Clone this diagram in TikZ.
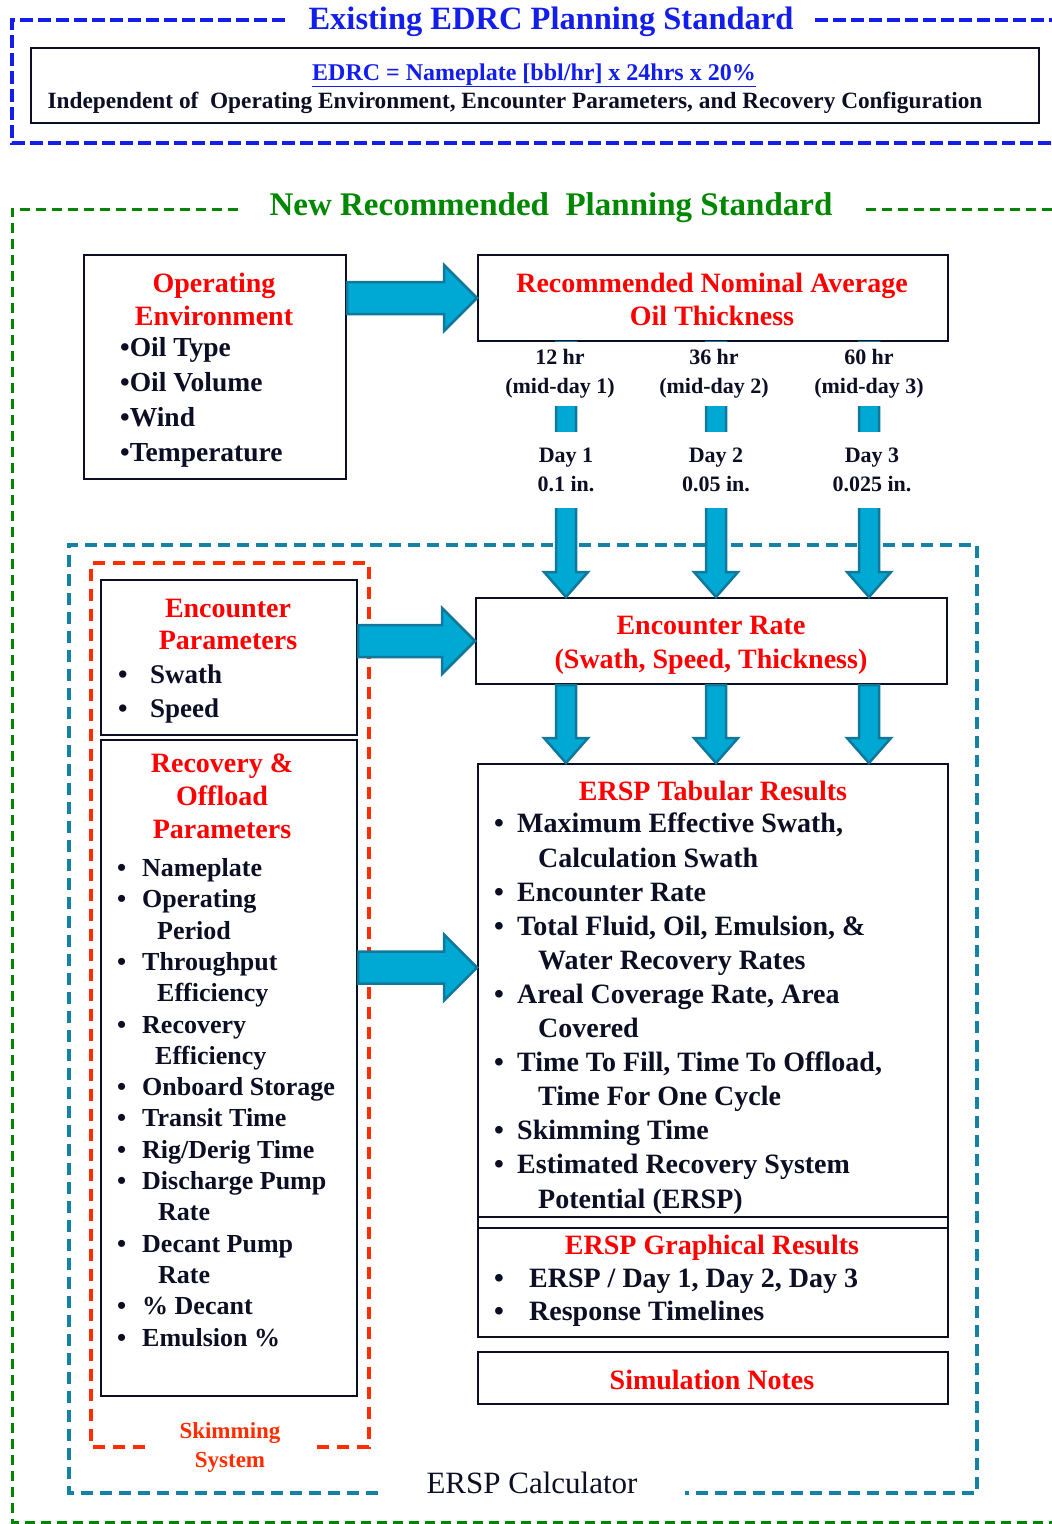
\documentclass[tikz,border=0pt]{standalone}
\usepackage{fontspec}
\setmainfont{Liberation Serif}
\usepackage{xcolor}
\usetikzlibrary{calc,positioning}

\definecolor{edrcblue}{RGB}{20,30,235}
\definecolor{newgreen}{RGB}{0,135,0}
\definecolor{hdred}{RGB}{255,0,0}
\definecolor{calcteal}{RGB}{20,130,165}
\definecolor{skimred}{RGB}{255,45,0}
\definecolor{arrowfill}{RGB}{0,168,212}
\definecolor{arrowedge}{RGB}{18,120,155}
\definecolor{boxline}{RGB}{12,14,35}

\newcommand{\bfs}[2]{\fontsize{#1}{#2}\selectfont\bfseries}
\newcommand{\bul}[1]{\makebox[#1][l]{\textbullet}}

\tikzstyle{panel} = [rectangle, draw=boxline, line width=2pt, anchor=north west, inner sep=0pt]
\tikzstyle{head} = [text=hdred, align=center, anchor=base, inner sep=0pt, font=\bfs{28}{33}]
\tikzstyle{items} = [text=boxline, align=left, anchor=base west, inner sep=0pt]
\tikzstyle{tag} = [fill=white, text=boxline, align=center, anchor=north, inner sep=0pt, minimum width=118pt, font=\bfs{22}{29}]
\tikzstyle{bluedash} = [draw=edrcblue, line width=4pt, dash pattern=on 13pt off 5pt]
\tikzstyle{greendash} = [draw=newgreen, line width=3pt, dash pattern=on 10pt off 6pt]
\tikzstyle{tealdash} = [draw=calcteal, line width=3.5pt, dash pattern=on 12pt off 7pt]
\tikzstyle{skimdash} = [draw=skimred, line width=3.5pt, dash pattern=on 12pt off 8pt]
\tikzstyle{fatright} = [draw=arrowedge, line width=2.5pt, fill=arrowfill, line join=miter,
  to path={let \p1=(\tikztostart), \p2=(\tikztotarget) in
    (\x1,\y2+16pt) -- (\x2-33pt,\y2+16pt) -- (\x2-33pt,\y2+33pt) -- (\x2,\y2)
    -- (\x2-33pt,\y2-33pt) -- (\x2-33pt,\y2-16pt) -- (\x1,\y2-16pt) -- cycle}]
\tikzstyle{fatdown} = [draw=arrowedge, line width=2.5pt, fill=arrowfill, line join=miter,
  to path={let \p1=(\tikztostart), \p2=(\tikztotarget) in
    (\x1-10pt,\y1) -- (\x1-10pt,\y2+25pt) -- (\x1-22pt,\y2+25pt) -- (\x1,\y2)
    -- (\x1+22pt,\y2+25pt) -- (\x1+10pt,\y2+25pt) -- (\x1+10pt,\y1) -- cycle}]

\begin{document}
\begin{tikzpicture}[x=1pt, y=-1pt]
\useasboundingbox (0,0) rectangle (1052,1524);

% existing standard
\node[anchor=base, text=edrcblue, font=\bfs{32.5}{36}] (oldtitle) at (551,29) {Existing EDRC Planning Standard};
\draw[bluedash] (285,20) -- (12,20) -- (12,143) -- (1052,143);
\draw[bluedash] (815,20) -- (1052,20);
\node[panel, minimum width=1008pt, minimum height=75pt] (edrcbox) at (30,47) {};
\node[anchor=base, text=edrcblue, font=\bfs{24}{28}] (formula) at (534,80) {\underline{EDRC = Nameplate [bbl/hr] x 24hrs x 20\%}};
\node[anchor=base, text=boxline, font=\bfs{23.3}{28}] (indep) at (515,108) {Independent of~ Operating Environment, Encounter Parameters, and Recovery Configuration};

% new standard
\node[anchor=base, text=newgreen, font=\bfs{33}{36}] (newtitle) at (551,215) {New Recommended~ Planning Standard};
\draw[greendash] (238,209) -- (12,209) -- (12,1522) -- (1052,1522);
\draw[greendash] (866,209) -- (1052,209);

% boxes
\node[panel, minimum width=262pt, minimum height=224pt] (openv) at (83,254) {};
\node[panel, minimum width=470pt, minimum height=86pt] (nominal) at (477,254) {};
\node[panel, minimum width=256pt, minimum height=155pt] (encpar) at (100,579) {};
\node[panel, minimum width=256pt, minimum height=656pt] (recov) at (100,739) {};
\node[panel, minimum width=471pt, minimum height=86pt] (encrate) at (475,597) {};
\node[panel, minimum width=470pt, minimum height=453pt] (tabular) at (477,763) {};
\node[panel, minimum width=470pt, minimum height=120pt] (graph) at (477,1216) {};
\draw[boxline, line width=2pt] ([yshift=-12pt]graph.north west) -- ([yshift=-12pt]graph.north east);
\node[panel, minimum width=470pt, minimum height=52pt] (notes) at (477,1351) {};

% calculator and skimming frames
\draw[tealdash] (378,1493) -- (69,1493) -- (69,545) -- (977,545) -- (977,1493) -- (685,1493);
\draw[skimdash] (145,1447) -- (91,1447) -- (91,563) -- (369,563) -- (369,1447) -- (315,1447);
\node[anchor=base, text=boxline, font=\fontsize{31}{36}\selectfont] (calclbl) at (532,1493) {ERSP Calculator};
\node[anchor=base, text=skimred, align=center, font=\bfs{23}{29}] (skimlbl) at (230,1467) {Skimming\\System};

% x positions of the day columns
\coordinate (col1) at (566,0);
\coordinate (col2) at (716,0);
\coordinate (col3) at (869,0);

% arrows
\path[fatright] (openv.east |- nominal.west) to (nominal.west);
\path[fatright] (encpar.east |- encrate.west) to (encrate.west);
\coordinate (tabin) at ([yshift=23pt]tabular.west);
\path[fatright] (recov.east |- tabin) to (tabin);
\path[fatdown] (nominal.south -| col1) to (encrate.north -| col1);
\path[fatdown] (nominal.south -| col2) to (encrate.north -| col2);
\path[fatdown] (nominal.south -| col3) to (encrate.north -| col3);
\path[fatdown] (encrate.south -| col1) to (tabular.north -| col1);
\path[fatdown] (encrate.south -| col2) to (tabular.north -| col2);
\path[fatdown] (encrate.south -| col3) to (tabular.north -| col3);

% thickness labels
\node[tag, minimum height=64pt] (hr1) at (560,342) {12 hr\\(mid-day 1)};
\node[tag, minimum height=64pt] (hr2) at (714,342) {36 hr\\(mid-day 2)};
\node[tag, minimum height=64pt] (hr3) at (869,342) {60 hr\\(mid-day 3)};
\node[tag, minimum height=76pt] (day1) at (566,432) {Day 1\\0.1 in.};
\node[tag, minimum height=76pt] (day2) at (716,432) {Day 2\\0.05 in.};
\node[tag, minimum height=76pt] (day3) at (872,432) {Day 3\\0.025 in.};

% texts (base = last line)
\node[head] (openvhead) at (214,325) {Operating\\Environment};
\node[items, font=\bfs{27.5}{34.7}] (openvlist) at (120,461) {\textbullet Oil Type\\\textbullet Oil Volume\\\textbullet Wind\\\textbullet Temperature};
\node[head] (nominalhead) at (712,325) {Recommended Nominal Average\\Oil Thickness};
\node[head, font=\bfs{28}{32}] (encparhead) at (228,649) {Encounter\\Parameters};
\node[items, font=\bfs{27}{34}] (encparlist) at (118,717) {\bul{32pt}Swath\\\bul{32pt}Speed};
\node[head] (recovhead) at (222,838) {Recovery \&\\Offload\\Parameters};
\node[items, font=\bfs{26}{31.3}] (recovlist) at (117,1346) {%
\bul{25pt}Nameplate\\
\bul{25pt}Operating\\
\hspace*{40pt}Period\\
\bul{25pt}Throughput\\
\hspace*{40pt}Efficiency\\
\bul{25pt}Recovery\\
\hspace*{38pt}Efficiency\\
\bul{25pt}Onboard Storage\\
\bul{25pt}Transit Time\\
\bul{25pt}Rig/Derig Time\\
\bul{25pt}Discharge Pump\\
\hspace*{41pt}Rate\\
\bul{25pt}Decant Pump\\
\hspace*{41pt}Rate\\
\bul{25pt}\% Decant\\
\bul{25pt}Emulsion \%};
\node[head, font=\bfs{28}{34}] (encratehead) at (711,668) {Encounter Rate\\(Swath, Speed, Thickness)};
\node[head] (tabhead) at (713,800) {ERSP Tabular Results};
\node[items, font=\bfs{28}{34.1}] (tablist) at (494,1208) {%
\bul{23pt}Maximum Effective Swath,\\
\hspace*{44pt}Calculation Swath\\
\bul{23pt}Encounter Rate\\
\bul{23pt}Total Fluid, Oil, Emulsion, \&\\
\hspace*{44pt}Water Recovery Rates\\
\bul{23pt}Areal Coverage Rate, Area\\
\hspace*{44pt}Covered\\
\bul{23pt}Time To Fill, Time To Offload,\\
\hspace*{44pt}Time For One Cycle\\
\bul{23pt}Skimming Time\\
\bul{23pt}Estimated Recovery System\\
\hspace*{44pt}Potential (ERSP)};
\node[head] (graphhead) at (712,1254) {ERSP Graphical Results};
\node[items, font=\bfs{28}{33}] (graphlist) at (494,1320) {\bul{35pt}ERSP / Day 1, Day 2, Day 3\\\bul{35pt}Response Timelines};
\node[head] (noteshead) at (712,1389) {Simulation Notes};

\end{tikzpicture}
\end{document}
